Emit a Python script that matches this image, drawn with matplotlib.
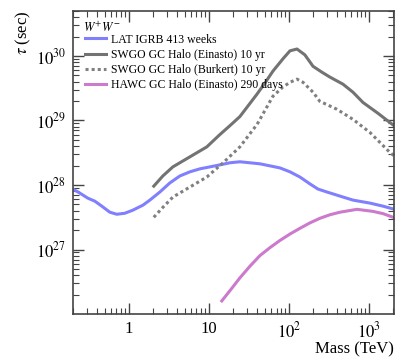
import matplotlib
matplotlib.use("Agg")
import matplotlib.pyplot as plt
from matplotlib.ticker import LogLocator, FixedLocator, FixedFormatter, NullFormatter

plt.rcParams["font.family"] = ["Liberation Serif", "DejaVu Serif"]
plt.rcParams["mathtext.fontset"] = "stix"

# LAT IGRB 413 weeks
lat_mass = [0.2, 0.244, 0.307, 0.376, 0.46, 0.579, 0.708, 0.891, 1.12, 1.5, 1.83, 2.44,
            3.25, 4.34, 5.79, 7.72, 10.3, 13.7, 18.3, 24.4, 32.5, 43.4, 57.9, 77.2,
            103, 137, 183, 230, 299, 434, 631, 1029, 1496, 2053]
lat_tau = [8.66e27, 7.5e27, 6.26e27, 5.62e27, 4.7e27, 3.79e27, 3.52e27, 3.65e27, 4.07e27,
           4.87e27, 5.83e27, 7.78e27, 1.075e28, 1.38e28, 1.6e28, 1.78e28, 1.91e28, 2.05e28,
           2.21e28, 2.29e28, 2.21e28, 2.13e28, 1.98e28, 1.84e28, 1.6e28, 1.33e28, 1.04e28,
           8.66e27, 7.78e27, 6.73e27, 5.83e27, 5.24e27, 4.7e27, 4.22e27]

# SWGO GC Halo (Einasto) 10 yr
ein_mass = [2.05, 2.66, 3.55, 5.79, 9.43, 13.7, 18.3, 24.4, 40, 50.1, 63, 84, 103, 126,
            158, 200, 258, 325, 473, 631, 841, 1296, 2053]
ein_tau = [9.6e27, 1.38e28, 1.91e28, 2.73e28, 3.9e28, 6.04e28, 8.3e28, 1.15e29, 2.57e29,
           3.8e29, 5.8e29, 9.0e29, 1.2e30, 1.28e30, 1.04e30, 6.9e29, 5.6e29, 4.7e29,
           3.65e29, 2.74e29, 1.9e29, 1.29e29, 8.3e28]

# SWGO GC Halo (Burkert) 10 yr
bur_mass = [2.05, 2.66, 3.55, 5.79, 9.43, 15, 24.4, 40, 50.1, 63, 84, 103, 126, 150,
            200, 243, 398, 631, 1030, 1840, 2053]
bur_tau = [3.16e27, 4.5e27, 6.5e27, 9.3e27, 1.33e28, 2.2e28, 3.9e28, 8.7e28, 1.43e29,
           2.37e29, 3.3e29, 3.9e29, 4.37e29, 3.9e29, 2.74e29, 1.98e29, 1.49e29, 1.04e29,
           6.5e28, 3.16e28, 2.84e28]

# HAWC GC Halo (Einasto) 290 days
hawc_mass = [14.5, 18.8, 24.4, 32.5, 43.4, 57.9, 77, 103, 137, 183, 244, 325, 434, 708,
             1122, 1496, 2000]
hawc_tau = [1.6e26, 2.4e26, 3.64e26, 5.5e26, 8.06e26, 1.07e27, 1.38e27, 1.74e27, 2.13e27,
            2.59e27, 3.05e27, 3.46e27, 3.79e27, 4.2e27, 3.9e27, 3.6e27, 3.16e27]

fig = plt.figure(figsize=(4.07, 3.61), dpi=100)
ax = fig.add_axes([0.179, 0.130, 0.789, 0.840])

lw = 2.2
ax.plot(lat_mass, lat_tau, color="#8080ff", lw=lw, label="LAT IGRB 413 weeks")
ax.plot(ein_mass, ein_tau, color="#737373", lw=lw, label="SWGO GC Halo (Einasto) 10 yr")
ax.plot(bur_mass, bur_tau, color="#808080", lw=lw, linestyle=(0, (1, 1)),
        dash_capstyle="butt", label="SWGO GC Halo (Burkert) 10 yr")
ax.plot(hawc_mass, hawc_tau, color="#cc7acc", lw=lw, label="HAWC GC Halo (Einasto) 290 days")

ax.set_xscale("log")
ax.set_yscale("log")
ax.set_xlim(0.2, 2050)
ax.set_ylim(1e26, 5e30)

ax.xaxis.set_major_locator(FixedLocator([1, 10, 100, 1000]))
ax.xaxis.set_major_formatter(FixedFormatter(["1", "10", "$10^2$", "$10^3$"]))
ax.xaxis.set_minor_locator(LogLocator(base=10, subs=range(2, 10)))
ax.xaxis.set_minor_formatter(NullFormatter())
ax.yaxis.set_major_locator(FixedLocator([1e27, 1e28, 1e29, 1e30]))
ax.yaxis.set_major_formatter(FixedFormatter(["$10^{27}$", "$10^{28}$", "$10^{29}$", "$10^{30}$"]))
ax.yaxis.set_minor_locator(LogLocator(base=10, subs=range(2, 10)))
ax.yaxis.set_minor_formatter(NullFormatter())

ax.tick_params(which="both", direction="in", top=True, right=True, color="#444444")
ax.tick_params(which="major", length=8, width=1, labelsize=12, pad=5)
ax.tick_params(which="minor", length=4, width=0.8)
for s in ax.spines.values():
    s.set_color("#444444")
    s.set_linewidth(1.2)

ax.set_xlabel("Mass (TeV)", fontsize=12, loc="right", labelpad=0)
ax.set_ylabel(r"$\tau$ (sec)", fontsize=12, loc="top", labelpad=2)

ax.text(0.031, 0.945, r"$W^{+}W^{-}$", transform=ax.transAxes, fontsize=9,
        ha="left", va="center")
ax.legend(loc="upper left", bbox_to_anchor=(0.037, 0.925), frameon=False, fontsize=8.5,
          handlelength=1.8, handletextpad=0.4, labelspacing=0.27,
          borderpad=0, borderaxespad=0)

fig.savefig("out.png", dpi=100)
